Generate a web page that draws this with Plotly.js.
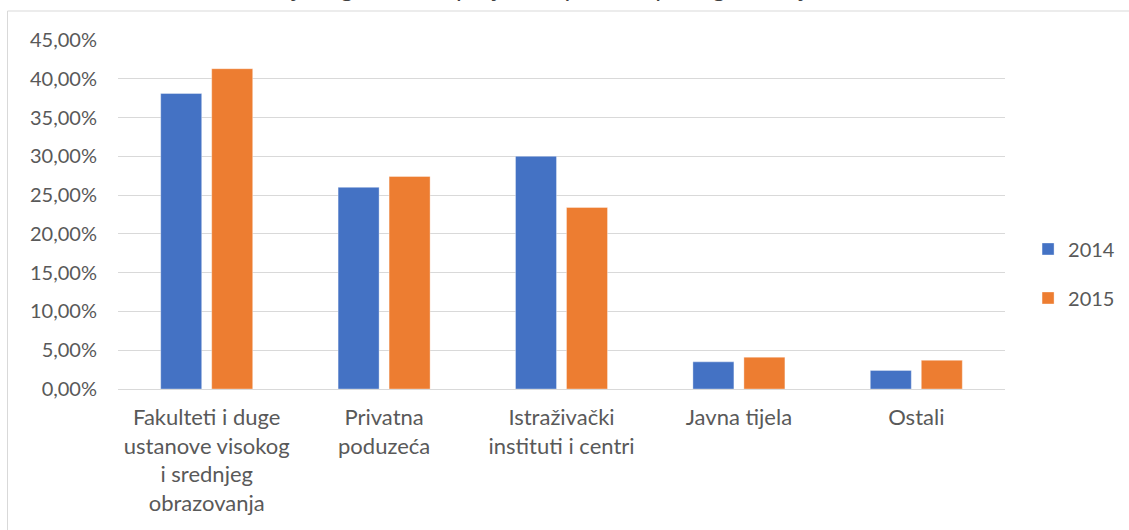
<!DOCTYPE html>
<html>
<head>
<meta charset="utf-8">
<script src="https://cdn.plot.ly/plotly-3.0.1.min.js"></script>
<style>html,body{margin:0;padding:0;background:#fff;}#chart{width:1129px;height:530px;}</style>
</head>
<body>
<div id="chart"></div>
<script>
// Data
const categories = [
  "Fakulteti i duge<br>ustanove visokog<br>i srednjeg<br>obrazovanja",
  "Privatna<br>poduzeća",
  "Istraživački<br>instituti i centri",
  "Javna tijela",
  "Ostali"
];
const seriesNames = ["2014", "2015"];
const values2014 = [0.381, 0.260, 0.300, 0.035, 0.024];
const values2015 = [0.413, 0.274, 0.234, 0.041, 0.037];
const chartTitle = "Omjer ugovorenih projekata prema tipu organizacije";

const textColor = "#595959";
const gridColor = "#d9d9d9";
const fontFam = "Lato, 'Open Sans', sans-serif";

const traces = [
  {type: "bar", name: seriesNames[0], x: categories, y: values2014,
   marker: {color: "#4472C4", line: {color: "rgba(255,255,255,0.35)", width: 1}},
   legendgroup: "a", hoverinfo: "y"},
  {type: "bar", name: seriesNames[1], x: categories, y: values2015,
   marker: {color: "#ED7D31", line: {color: "rgba(255,255,255,0.35)", width: 1}},
   legendgroup: "b", hoverinfo: "y"}
];

const layout = {
  width: 1129, height: 530,
  margin: {l: 118, r: 124, t: 40, b: 141, autoexpand: false},
  paper_bgcolor: "#fff", plot_bgcolor: "#fff",
  separators: ", ",
  barmode: "group",
  bargap: 0.425,
  bargroupgap: 0.196,
  font: {family: fontFam, color: textColor},
  xaxis: {
    type: "category", automargin: false,
    showgrid: false, showline: false, zeroline: false,
    tickfont: {size: 22, color: textColor, family: fontFam},
    ticks: "", ticklabelstandoff: 13
  },
  yaxis: {
    range: [0, 0.45], dtick: 0.05, tick0: 0, automargin: false,
    tickformat: ".2%",
    showgrid: true, gridcolor: gridColor, gridwidth: 1,
    zeroline: true, zerolinecolor: gridColor, zerolinewidth: 1,
    showline: false, ticks: "",
    tickfont: {size: 20, color: textColor, family: fontFam},
    ticklabelstandoff: 20
  },
  showlegend: true,
  legend: {
    x: 1.026, xanchor: "left", y: 0.331, yanchor: "middle",
    font: {size: 20, color: textColor, family: fontFam},
    tracegroupgap: 20, bgcolor: "rgba(0,0,0,0)"
  },
  shapes: [{
    type: "rect", xref: "paper", yref: "paper",
    x0: (7.5 - 118) / 887, x1: 1.2, y0: -0.6, y1: (389 - 11) / 349,
    line: {color: gridColor, width: 1}, fillcolor: "rgba(0,0,0,0)", layer: "below"
  }],
  annotations: [{
    text: chartTitle, xref: "paper", yref: "paper",
    x: (535 - 118) / 887, xanchor: "center",
    y: (389 - 4) / 349, yanchor: "bottom",
    showarrow: false,
    font: {size: 25, color: "#404040", family: fontFam}
  }]
};

Plotly.newPlot("chart", traces, layout, {displayModeBar: false, staticPlot: true});
</script>
</body>
</html>
